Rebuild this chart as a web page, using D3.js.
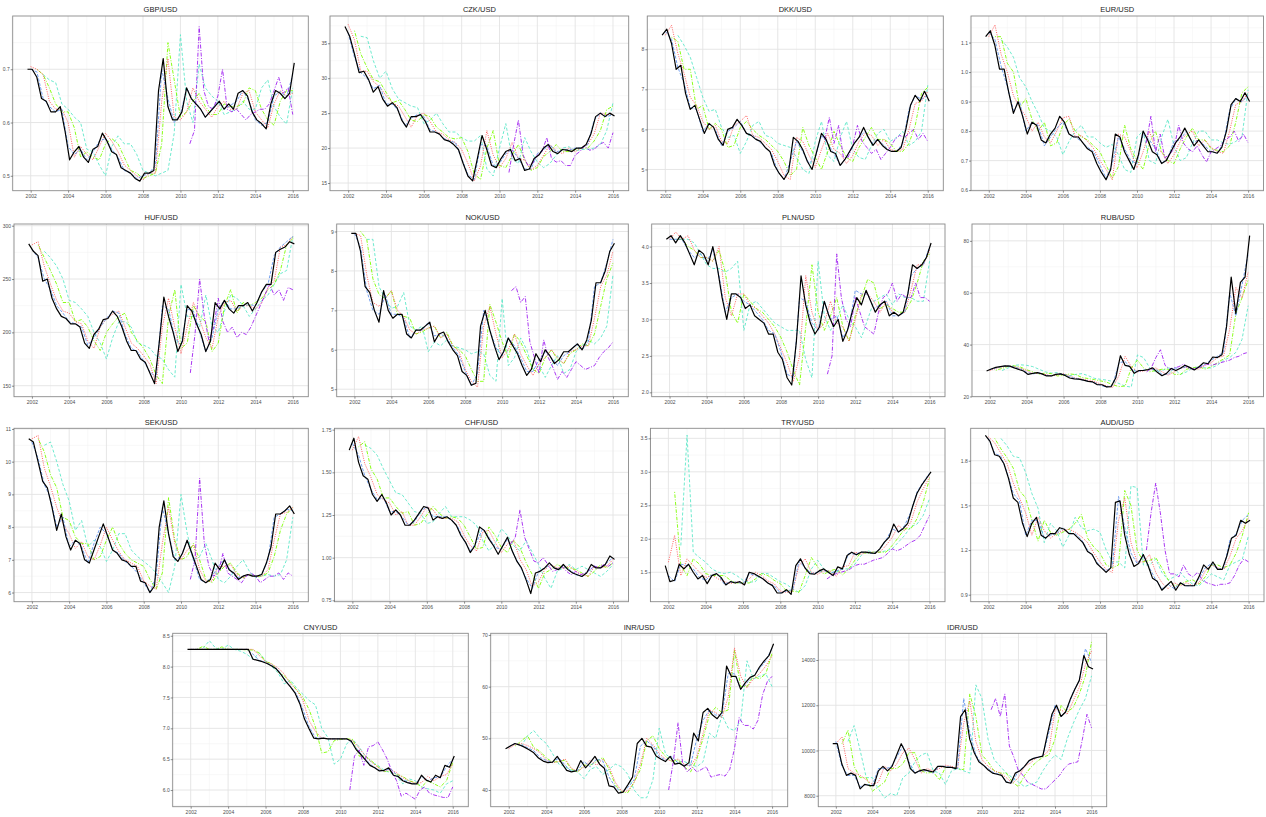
<!DOCTYPE html>
<html>
<head>
<meta charset="utf-8">
<script src="https://cdn.jsdelivr.net/npm/d3@7"></script>
<style>
body { margin: 0; background: #fff; }
svg { display: block; }
text { font-family: "Liberation Sans", Arial, sans-serif; }
</style>
</head>
<body>
<div id="chart"></div>
<script>
//////////////////////////////////////////////////////////////////////////////
// Time grids: actual is quarterly from Nov 2001, forecasts every 4 months
// (Jan/May/Sep) from Jan 2002, the long-run model quarterly from mid 2010

var actualStart = 2001.83, actualStep = 0.25;
var h1Start = 2002, h3Start = 2002, h6Start = 2002 + 1/3, h12Start = 2002 + 2/3, fcStep = 1/3;
var lrStart = 2010.5, lrStep = 0.25;
var yearTicks = [2002, 2004, 2006, 2008, 2010, 2012, 2014, 2016];

//////////////////////////////////////////////////////////////////////////////
// Data, one block per currency

var gbpActual = [0.70, 0.70,0.685,0.645,0.64, 0.62,0.62,0.63,0.585, 0.53,0.545,0.555,0.535, 0.525,0.55,0.555,0.58, 0.565,0.545,0.54,0.515, 0.51,0.505,0.495,0.49, 0.505,0.505,0.51,0.66, 0.72,0.63,0.605,0.605, 0.62,0.665,0.645,0.635, 0.625,0.61,0.62,0.63, 0.64,0.625,0.635,0.625, 0.655,0.66,0.65,0.62, 0.605,0.598,0.588,0.635, 0.66,0.655,0.645,0.655, 0.712];
var gbpH1 = [0.70,0.695,0.645, 0.63,0.62,0.625, 0.555,0.54,0.55, 0.53,0.545,0.565, 0.57,0.55,0.535, 0.51,0.505,0.495, 0.50,0.505,0.52, 0.70,0.645,0.60, 0.615,0.665,0.64, 0.63,0.61,0.625, 0.64,0.625,0.632, 0.64,0.66,0.64, 0.605,0.595,0.60, 0.65,0.658,0.648, 0.69];
var gbpH3 = [0.705,0.70,0.69, 0.64,0.625,0.625, 0.60,0.535,0.555, 0.54,0.53,0.555, 0.58,0.565,0.545, 0.52,0.51,0.50, 0.492,0.505,0.505, 0.64,0.72,0.61, 0.605,0.62,0.665, 0.64,0.625,0.61, 0.63,0.64,0.625, 0.625,0.655,0.66, 0.62,0.605,0.59, 0.635,0.66,0.65, 0.655];
var gbpH6 = [0.70,0.69, 0.665,0.635,0.62, 0.62,0.59,0.535, 0.545,0.535,0.53, 0.56,0.57,0.56, 0.535,0.51,0.505, 0.495,0.50,0.505, 0.56,0.75,0.68, 0.61,0.62,0.64, 0.655,0.63,0.615, 0.615,0.635,0.63, 0.63,0.635,0.665, 0.66,0.625,0.605, 0.595,0.64,0.66, 0.66];
var gbpH12 = [0.69, 0.68,0.675,0.635, 0.625,0.61,0.60, 0.55,0.545,0.52, 0.50,0.555,0.575, 0.56,0.56,0.54, 0.51,0.505,0.50, 0.505,0.51,0.58, 0.765,0.64,0.60, 0.71,0.665,0.65, 0.64,0.615,0.62, 0.625,0.64,0.625, 0.625,0.665,0.68, 0.63,0.61,0.597, 0.665];
var gbpLR = [0.56,0.585, 0.78,0.66,0.63,0.625, 0.65,0.70,0.625,0.62, 0.625,0.615,0.605,0.615, 0.62,0.625,0.625,0.635, 0.66,0.685,0.655,0.665, 0.615];
var gbpTicks = [0.5, 0.6, 0.7];

var czkActual = [37.4, 36.0,33.5,30.8,31.0, 29.8,28.0,28.8,27.0, 26.0,26.5,25.8,24.0, 23.0,24.5,24.5,24.8, 23.8,22.3,22.3,22.0, 21.2,21.0,20.5,19.8, 17.8,16.0,15.3,18.5, 21.8,19.8,17.5,17.2, 18.5,19.5,19.8,18.2, 18.5,16.8,17.0,18.5, 19.0,20.0,20.5,19.5, 19.2,19.8,19.7,19.5, 20.0,20.0,20.5,22.0, 24.5,25.0,24.5,25.0, 24.6];
var czkH1 = [36.5,33.0,30.8, 30.0,28.5,29.0, 26.3,26.3,25.3, 23.2,24.3,24.8, 24.5,22.6,22.3, 21.5,21.0,20.8, 18.5,16.2,15.5, 20.5,20.3,17.5, 17.8,19.2,19.8, 18.5,17.0,17.0, 19.2,19.8,20.5, 19.4,19.8,19.7, 20.0,20.0,20.5, 24.0,25.0,24.5, 24.8];
var czkH3 = [37.7,35.5,31.0, 31.0,29.5,28.8, 27.5,26.5,26.0, 24.5,23.0,24.7, 25.0,23.8,22.3, 22.0,21.2,20.8, 19.8,17.8,15.3, 17.5,22.5,19.0, 17.2,18.5,20.8, 18.5,18.3,16.9, 17.5,19.0,20.5, 19.6,19.2,20.0, 19.5,20.0,20.5, 22.0,25.0,24.8, 24.8];
var czkH6 = [36.8,33.5, 31.5,29.8,29.5, 28.0,26.5,26.8, 25.5,24.0,23.8, 24.8,24.5,23.0, 22.3,21.5,21.3, 21.5,19.5,16.3, 15.5,20.0,22.5, 17.5,17.2,19.0, 20.5,18.3,16.8, 17.2,18.8,19.5, 20.5,19.5,19.5, 19.8,20.0,20.0, 21.0,22.5,25.5, 26.0];
var czkH12 = [36.0, 35.8,32.5,30.0, 31.0,28.5,27.0, 26.5,26.0,25.8, 23.5,24.0,25.0, 23.5,22.3,22.3, 21.5,21.0,21.0, 21.8,17.0,16.0, 20.0,23.5,18.5, 17.8,21.5,19.5, 18.0,17.2,17.8, 19.0,20.0,20.2, 19.6,19.8,19.8, 20.0,20.5,22.5, 26.5];
var czkLR = [16.5,20.5, 24.0,19.0,17.5,17.8, 19.0,19.5,21.5,18.5, 18.0,18.2,17.5,17.5, 19.0,19.5,20.3,19.7, 19.8,20.5,20.8,20.0, 22.2];
var czkTicks = [15, 20, 25, 30, 35];

var dkkActual = [8.35, 8.5,8.15,7.5,7.6, 6.9,6.5,6.6,6.25, 5.9,6.15,6.05,5.75, 5.6,6.0,6.05,6.25, 6.1,5.9,5.85,5.75, 5.7,5.55,5.45,5.1, 4.9,4.75,4.95,5.8, 5.7,5.5,5.2,5.0, 5.45,5.9,5.75,5.45, 5.4,5.1,5.25,5.45, 5.65,5.8,6.05,5.8, 5.6,5.75,5.6,5.5, 5.45,5.45,5.55,6.0, 6.6,6.85,6.7,6.95, 6.7];
var dkkH1 = [8.45,8.25,7.55, 7.15,6.55,6.5, 5.95,6.15,6.0, 5.6,5.95,6.05, 6.2,5.9,5.85, 5.7,5.55,5.4, 4.95,4.75,5.2, 5.7,5.45,5.15, 5.3,5.85,5.65, 5.4,5.1,5.3, 5.6,5.8,5.95, 5.65,5.75,5.6, 5.45,5.45,5.65, 6.5,6.85,6.75, 6.85];
var dkkH3 = [8.35,8.6,7.9, 7.4,6.8,6.6, 6.2,6.0,6.1, 5.7,5.65,6.1, 6.2,6.35,5.85, 5.8,5.65,5.5, 5.2,4.85,4.75, 5.8,5.7,5.35, 5.05,5.5,5.9, 5.5,5.4,5.15, 5.35,5.7,5.9, 5.85,5.6,5.75, 5.5,5.45,5.5, 6.0,6.65,6.7, 6.95];
var dkkH6 = [8.3,8.2, 7.5,7.5,6.5, 6.6,6.0,6.15, 6.0,5.55,5.6, 6.05,6.2,6.0, 5.85,5.75,5.6, 5.45,5.2,4.85, 5.0,6.05,5.6, 5.3,5.0,5.45, 5.95,5.6,5.3, 5.2,5.55,5.8, 6.05,5.75,5.75, 5.65,5.45,5.45, 5.65,6.1,6.9, 7.05];
var dkkH12 = [8.35, 8.1,7.8,7.3, 6.8,6.45,6.5, 6.05,5.8,5.85, 5.4,5.7,6.1, 6.2,5.85,5.8, 5.65,5.6,5.55, 5.3,5.0,4.9, 5.7,6.2,5.35, 5.2,5.8,6.2, 5.5,5.3,5.25, 5.6,5.9,6.0, 5.7,5.8,5.95, 5.6,5.7,5.95, 7.1];
var dkkLR = [5.75,6.3, 5.65,6.1,5.3,5.3, 5.6,6.1,5.7,5.55, 5.4,5.5,5.25,5.4, 5.55,5.75,5.85,5.8, 5.9,6.0,5.75,5.9, 5.7];
var dkkTicks = [5, 6, 7, 8];

var eurActual = [1.12, 1.14,1.09,1.01,1.01, 0.93,0.86,0.90,0.85, 0.79,0.83,0.82,0.77, 0.76,0.79,0.81,0.85, 0.83,0.79,0.78,0.78, 0.76,0.74,0.73,0.69, 0.66,0.635,0.67,0.79, 0.78,0.73,0.70,0.67, 0.72,0.80,0.77,0.73, 0.72,0.69,0.70,0.73, 0.76,0.78,0.81,0.78, 0.75,0.77,0.75,0.73, 0.73,0.725,0.745,0.80, 0.89,0.91,0.90,0.93, 0.90];
var eurH1 = [1.135,1.11,1.02, 0.95,0.87,0.90, 0.80,0.83,0.82, 0.75,0.78,0.81, 0.83,0.79,0.78, 0.765,0.745,0.73, 0.685,0.64,0.69, 0.78,0.74,0.70, 0.69,0.79,0.77, 0.74,0.69,0.71, 0.765,0.77,0.80, 0.76,0.77,0.75, 0.73,0.725,0.76, 0.87,0.91,0.90, 0.92];
var eurH3 = [1.12,1.16,1.06, 1.0,0.92,0.88, 0.85,0.80,0.83, 0.78,0.76,0.80, 0.845,0.85,0.78, 0.785,0.765,0.74, 0.70,0.67,0.635, 0.79,0.78,0.73, 0.675,0.73,0.80, 0.74,0.73,0.69, 0.72,0.765,0.79, 0.80,0.75,0.77, 0.745,0.73,0.725, 0.80,0.89,0.90, 0.93];
var eurH6 = [1.12,1.12, 1.03,1.0,0.88, 0.91,0.84,0.80, 0.83,0.75,0.76, 0.82,0.84,0.80, 0.78,0.77,0.75, 0.73,0.685,0.64, 0.68,0.82,0.74, 0.70,0.67,0.76, 0.80,0.73,0.70, 0.69,0.74,0.78, 0.81,0.77,0.77, 0.74,0.735,0.73, 0.75,0.83,0.93, 0.95];
var eurH12 = [1.11, 1.085,1.05,0.98, 0.95,0.90,0.86, 0.81,0.80,0.78, 0.72,0.765,0.80, 0.82,0.78,0.78, 0.76,0.745,0.755, 0.72,0.67,0.66, 0.78,0.80,0.70, 0.69,0.78,0.84, 0.75,0.70,0.71, 0.76,0.80,0.80, 0.77,0.77,0.76, 0.755,0.765,0.78, 0.94];
var eurLR = [0.76,0.85, 0.73,0.79,0.71,0.72, 0.74,0.82,0.76,0.74, 0.73,0.75,0.72,0.695, 0.73,0.74,0.75,0.77, 0.78,0.80,0.765,0.79, 0.76];
var eurTicks = [0.6, 0.7, 0.8, 0.9, 1.0, 1.1];

var hufActual = [283, 276,272,248,250, 232,222,215,213, 208,208,205,190, 185,198,203,212, 213,220,215,205, 192,183,183,175, 172,162,152,190, 233,215,200,182, 192,225,220,208, 198,182,192,228, 222,230,222,218, 225,225,228,220, 228,238,245,245, 275,278,280,285, 283];
var hufH1 = [278,270,250, 240,225,218, 210,208,205, 188,195,205, 213,220,218, 198,185,182, 173,163,158, 225,222,195, 188,222,220, 200,182,195, 222,230,222, 222,225,226, 225,238,245, 272,280,285, 290];
var hufH3 = [282,285,262, 245,230,220, 218,210,208, 192,185,205, 213,217,220, 205,190,185, 178,170,152, 205,232,205, 180,205,228, 212,195,185, 215,228,230, 220,225,225, 222,228,242, 248,280,282, 290];
var hufH6 = [282,270, 258,245,228, 228,210,212, 205,192,183, 200,208,215, 218,200,192, 185,175,160, 152,215,240, 185,190,225, 215,210,182, 190,225,240, 218,228,225, 228,232,240, 245,258,282, 288];
var hufH12 = [276, 270,262,250, 230,228,222, 215,200,190, 175,195,210, 210,205,190, 188,185,178, 175,165,158, 245,215,215, 205,235,205, 200,220,235, 232,225,215, 222,230,235, 245,255,258, 290];
var hufLR = [162,198, 250,215,192,205, 232,210,200,205, 195,200,198,205, 215,225,235,245, 235,240,230,242, 240];
var hufTicks = [150, 200, 250, 300];

var nokActual = [8.95, 8.95,8.5,7.6,7.45, 7.0,6.7,7.5,7.0, 6.8,6.9,6.9,6.4, 6.3,6.5,6.5,6.6, 6.7,6.2,6.4,6.45, 6.2,6.0,5.85,5.45, 5.35,5.1,5.15,6.6, 7.0,6.5,6.1,5.75, 5.95,6.3,6.1,5.9, 5.6,5.35,5.5,5.9, 5.7,6.0,5.85,5.65, 5.75,5.95,5.95,6.05, 6.15,6.0,6.25,6.75, 7.7,7.7,8.0,8.5, 8.7];
var nokH1 = [8.95,8.6,7.5, 7.0,6.9,7.4, 6.9,6.9,6.8, 6.3,6.5,6.5, 6.7,6.35,6.4, 6.3,6.05,5.85, 5.45,5.1,5.4, 7.0,6.5,6.05, 5.85,6.3,6.1, 5.8,5.45,5.45, 5.75,5.95,5.8, 5.6,5.85,5.95, 6.15,6.0,6.2, 7.6,7.7,8.2, 8.8];
var nokH3 = [8.95,8.9,7.9, 7.2,7.1,7.3, 7.5,7.0,6.85, 6.5,6.4,6.5, 6.55,6.6,6.3, 6.4,6.1,5.95, 5.5,5.2,5.05, 6.6,7.1,6.4, 5.8,6.0,6.4, 5.9,5.6,5.35, 5.65,5.8,6.0, 5.8,5.65,5.95, 6.0,6.1,6.1, 6.8,7.6,7.9, 8.5];
var nokH6 = [9.0,8.8, 7.8,7.4,7.3, 7.5,6.9,6.85, 6.8,6.4,6.45, 6.55,6.6,6.3, 6.45,6.1,6.0, 5.85,5.5,5.2, 5.2,7.15,6.7, 6.2,5.8,6.4, 6.2,5.85,5.5, 5.4,5.8,6.0, 5.75,5.65,5.9, 6.0,6.15,6.1, 6.4,7.1,7.8, 8.2];
var nokH12 = [8.8, 8.8,7.6,7.3, 7.05,7.1,7.45, 6.6,6.5,6.6, 5.95,6.2,6.1, 6.25,6.1,6.05, 6.0,5.9,5.95, 5.9,5.35,5.2, 7.3,5.6,5.8, 6.3,6.0,5.5, 5.6,5.3,5.6, 5.85,5.4,5.5, 5.95,6.1,6.25, 6.15,6.3,6.6, 7.9];
var nokLR = [7.5,7.6, 7.2,7.35,6.2,5.8, 5.4,6.25,5.8,5.55, 5.25,5.45,5.3,5.5, 5.7,5.6,5.5,5.55, 5.6,5.8,5.95,6.05, 6.2];
var nokTicks = [5, 6, 7, 8, 9];

var plnActual = [4.1, 4.15,4.05,4.15,4.05, 3.9,3.75,3.95,3.9, 3.75,4.0,3.7,3.3, 3.0,3.35,3.35,3.3, 3.15,3.2,3.05,3.0, 2.95,2.8,2.8,2.55, 2.45,2.2,2.1,2.7, 3.6,3.2,2.95,2.8, 2.9,3.25,3.05,2.9, 3.0,2.7,2.85,3.1, 3.3,3.2,3.4,3.25, 3.1,3.2,3.25,3.05, 3.1,3.05,3.1,3.35, 3.75,3.7,3.75,3.85, 4.05];
var plnH1 = [4.1,4.1,4.1, 3.95,3.85,3.9, 3.8,3.95,3.6, 3.1,3.3,3.35, 3.25,3.2,3.1, 3.0,2.85,2.8, 2.55,2.25,2.2, 3.3,3.25,2.95, 2.85,3.25,3.0, 3.05,2.75,2.9, 3.4,3.35,3.35, 3.15,3.2,3.25, 3.05,3.05,3.1, 3.6,3.7,3.75, 4.0];
var plnH3 = [4.1,4.2,4.1, 4.15,3.95,3.85, 3.85,3.8,4.0, 3.3,3.05,3.35, 3.35,3.2,3.15, 3.05,2.95,2.8, 2.6,2.4,2.15, 2.5,3.6,3.1, 2.85,2.95,3.25, 2.95,2.9,2.7, 3.0,3.35,3.35, 3.25,3.1,3.25, 3.1,3.05,3.1, 3.4,3.75,3.75, 3.95];
var plnH6 = [4.1,4.1, 4.0,3.95,3.85, 3.85,3.8,3.95, 3.65,3.1,2.95, 3.35,3.25,3.15, 3.1,3.0,2.9, 2.75,2.55,2.3, 2.1,2.9,3.75, 3.1,2.85,3.05, 3.3,2.9,2.7, 3.05,3.3,3.55, 3.5,3.15,3.2, 3.15,3.1,3.1, 3.25,3.5,3.8, 3.9];
var plnH12 = [4.1, 4.1,4.05,3.9, 3.75,3.7,3.7, 3.65,3.7,3.8, 2.85,3.2,3.25, 3.15,3.05,2.95, 2.9,2.85,2.85, 2.85,2.45,2.2, 3.8,3.05,2.85, 3.0,3.2,3.0, 2.9,2.75,3.0, 3.25,3.3,3.35, 3.2,3.35,3.3, 3.3,3.25,3.25, 3.8];
var plnLR = [2.25,2.5, 3.9,3.3,3.0,2.9, 3.3,3.1,2.9,2.85, 2.8,3.1,3.3,3.35, 3.5,3.25,3.35,3.3, 3.3,3.5,3.3,3.3, 3.25];
var plnTicks = [2.0, 2.5, 3.0, 3.5, 4.0];

var rubActual = [29.8, 30.6,31.2,31.5,31.8, 31.7,31.0,30.4,29.8, 28.5,28.9,29.2,28.7, 27.9,27.9,28.5,28.7, 28.1,27.1,26.8,26.7, 26.3,25.8,25.6,24.5, 24.5,23.7,23.8,27.2, 35.7,32.0,31.6,28.9, 30.0,30.0,30.4,31.0, 29.3,28.0,28.9,30.8, 30.0,30.9,32.0,31.2, 30.2,31.4,33.0,32.6, 35.2,35.0,36.1,47.0, 66.0,52.0,64.0,66.0, 82.0];
var rubH1 = [30.3,31.0,31.6, 31.8,31.3,30.6, 29.3,28.7,29.1, 28.2,27.9,28.6, 28.6,27.5,26.9, 26.4,25.9,25.4, 24.3,23.6,24.5, 33.0,33.5,30.5, 29.5,30.2,30.3, 30.5,28.5,28.5, 31.0,30.8,31.5, 30.5,31.5,32.5, 34.0,35.5,37.0, 60.0,51.0,63.0, 75.0];
var rubH3 = [30.0,30.8,31.4, 31.8,31.5,30.8, 30.0,28.8,29.0, 28.5,27.9,28.3, 28.8,27.9,27.0, 26.7,26.2,25.8, 24.8,24.0,23.5, 28.0,35.5,31.5, 29.5,29.8,30.3, 31.0,29.5,28.2, 29.5,31.0,31.2, 30.8,30.5,32.0, 33.0,35.0,35.5, 46.0,62.0,58.0, 68.0];
var rubH6 = [30.1,30.8, 31.6,31.8,31.3, 30.3,29.5,28.6, 29.0,28.8,27.9, 28.1,28.7,28.4, 27.3,26.9,26.5, 26.0,25.5,24.5, 23.8,24.0,31.0, 34.0,31.0,29.5, 30.0,30.5,30.5, 28.5,28.5,30.5, 31.0,31.5,30.5, 31.5,33.0,34.5, 36.0,52.0,58.0, 65.0];
var rubH12 = [30.0, 31.0,32.0,32.2, 32.0,31.5,30.5, 29.5,29.0,29.2, 28.5,28.0,28.5, 28.8,28.0,27.0, 26.6,26.3,25.8, 25.0,24.0,23.6, 36.0,35.0,31.0, 29.5,30.0,31.0, 30.5,28.5,29.5, 31.0,31.5,31.0, 31.0,32.0,34.0, 35.0,37.0,42.0, 55.0];
var rubLR = [29.5,31.0, 35.0,38.0,32.0,30.5, 31.0,31.5,32.5,31.0, 30.5,31.0,31.5,32.5, 32.0,32.5,33.0,33.5, 34.0,35.0,35.5,36.5, 37.0];
var rubTicks = [20, 40, 60, 80];

var sekActual = [10.7, 10.6,10.0,9.4,9.2, 8.6,7.9,8.4,7.7, 7.3,7.6,7.5,7.0, 6.9,7.3,7.7,8.1, 7.7,7.3,7.2,7.0, 6.95,6.8,6.8,6.35, 6.3,6.0,6.2,8.0, 8.8,7.8,7.1,6.95, 7.2,7.6,7.2,6.8, 6.4,6.3,6.4,6.9, 6.7,7.0,6.7,6.6, 6.4,6.5,6.55,6.5, 6.5,6.55,6.9,7.4, 8.4,8.4,8.5,8.65, 8.4];
var sekH1 = [10.6,10.1,9.3, 8.9,8.0,8.3, 7.4,7.6,7.4, 6.9,7.5,8.0, 7.8,7.3,7.2, 6.95,6.8,6.6, 6.3,6.0,6.5, 8.6,7.8,7.0, 7.1,7.6,7.0, 6.4,6.3,6.5, 6.8,7.0,6.65, 6.45,6.5,6.55, 6.5,6.55,7.0, 8.3,8.4,8.55, 8.5];
var sekH3 = [10.7,10.8,9.8, 9.25,8.6,8.1, 7.8,7.35,7.55, 7.1,7.0,7.45, 8.0,7.6,7.25, 7.0,6.9,6.8, 6.35,6.2,6.1, 7.5,8.6,7.5, 7.0,7.3,7.45, 6.7,6.35,6.35, 6.8,6.8,6.85, 6.55,6.45,6.55, 6.5,6.5,6.7, 7.6,8.4,8.45, 8.6];
var sekH6 = [10.7,10.3, 9.6,9.2,8.3, 8.2,7.7,7.5, 7.5,7.0,7.1, 7.6,8.0,7.5, 7.2,7.0,6.9, 6.8,6.4,6.1, 6.6,8.9,7.6, 7.0,7.1,7.5, 7.0,6.4,6.3, 6.6,6.8,6.9, 6.6,6.45,6.55, 6.5,6.5,6.6, 7.1,7.9,8.4, 8.6];
var sekH12 = [10.5, 10.6,10.0,9.3, 8.8,7.9,8.2, 7.4,7.6,7.4, 6.95,7.3,7.8, 7.8,7.3,7.1, 6.95,6.8,6.6, 6.3,6.0,6.8, 9.0,7.8,7.0, 7.1,7.5,7.0, 6.4,6.3,6.5, 6.8,7.0,6.65, 6.45,6.5,6.55, 6.5,6.55,7.0, 8.3];
var sekLR = [6.4,7.0, 9.5,7.5,6.8,6.5, 6.6,7.2,6.6,6.5, 6.4,6.3,6.5,6.6, 6.5,6.3,6.4,6.5, 6.5,6.6,6.4,6.6, 6.5];
var sekTicks = [6, 7, 8, 9, 10, 11];

var chfActual = [1.63, 1.70,1.56,1.48,1.46, 1.37,1.33,1.37,1.32, 1.25,1.28,1.25,1.19, 1.19,1.22,1.26,1.30, 1.29,1.22,1.24,1.23, 1.24,1.22,1.19,1.13, 1.09,1.03,1.07,1.18, 1.16,1.11,1.07,1.02, 1.07,1.12,1.04,0.98, 0.94,0.87,0.79,0.91, 0.92,0.94,0.97,0.94, 0.93,0.96,0.93,0.91, 0.90,0.89,0.91,0.96, 0.94,0.94,0.96,1.01, 0.99];
var chfH1 = [1.67,1.60,1.48, 1.40,1.34,1.35, 1.27,1.27,1.24, 1.19,1.21,1.27, 1.30,1.24,1.24, 1.24,1.22,1.18, 1.10,1.04,1.09, 1.17,1.12,1.06, 1.05,1.11,1.02, 0.95,0.88,0.82, 0.92,0.94,0.96, 0.93,0.95,0.93, 0.90,0.89,0.92, 0.95,0.94,0.97, 1.00];
var chfH3 = [1.63,1.71,1.55, 1.47,1.37,1.34, 1.32,1.25,1.27, 1.19,1.19,1.24, 1.30,1.28,1.23, 1.23,1.23,1.21, 1.13,1.07,1.04, 1.15,1.16,1.09, 1.03,1.08,1.10, 0.99,0.93,0.83, 0.86,0.93,0.96, 0.94,0.94,0.95, 0.92,0.90,0.89, 0.95,0.94,0.95, 0.99];
var chfH6 = [1.65,1.68, 1.52,1.46,1.35, 1.35,1.30,1.26, 1.27,1.19,1.20, 1.25,1.30,1.26, 1.23,1.24,1.23, 1.19,1.12,1.05, 1.06,1.18,1.13, 1.06,1.03,1.10, 1.06,0.97,0.90, 0.82,0.91,0.93, 0.96,0.94,0.94, 0.93,0.91,0.89, 0.92,0.96,0.94, 0.97];
var chfH12 = [1.66, 1.64,1.60,1.52, 1.45,1.38,1.37, 1.32,1.27,1.26, 1.20,1.21,1.26, 1.30,1.24,1.24, 1.24,1.22,1.19, 1.10,1.04,1.08, 1.17,1.13,1.07, 1.04,1.10,1.03, 0.96,0.88,0.82, 0.92,0.94,0.96, 0.93,0.95,0.93, 0.91,0.89,0.92, 0.96];
var chfLR = [1.08,1.12, 1.28,1.12,1.05,0.98, 0.97,1.00,0.96,0.92, 0.93,0.95,0.92,0.90, 0.92,0.90,0.91,0.93, 0.95,0.94,0.96,0.95, 0.97];
var chfTicks = [0.75, 1.00, 1.25, 1.50, 1.75];

var tryActual = [1.60, 1.36,1.38,1.62,1.55, 1.62,1.50,1.40,1.45, 1.33,1.45,1.48,1.42, 1.31,1.36,1.34,1.36, 1.31,1.50,1.48,1.44, 1.40,1.34,1.30,1.19, 1.19,1.24,1.17,1.60, 1.70,1.56,1.48,1.47, 1.52,1.55,1.50,1.45, 1.58,1.55,1.75,1.80, 1.76,1.80,1.80,1.79, 1.78,1.85,1.95,2.02, 2.22,2.10,2.15,2.23, 2.47,2.68,2.80,2.90, 3.00];
var tryH1 = [1.45,1.36,1.62, 1.60,1.55,1.42, 1.38,1.47,1.46, 1.32,1.36,1.35, 1.33,1.48,1.45, 1.42,1.34,1.30, 1.19,1.22,1.24, 1.66,1.57,1.48, 1.50,1.53,1.48, 1.52,1.55,1.78, 1.77,1.80,1.79, 1.78,1.84,1.98, 2.15,2.10,2.20, 2.40,2.70,2.85, 2.98];
var tryH3 = [1.65,2.05,1.45, 1.70,1.60,1.50, 1.42,1.46,1.40, 1.36,1.33,1.36, 1.32,1.40,1.50, 1.45,1.37,1.33, 1.22,1.20,1.22, 1.60,1.70,1.50, 1.47,1.52,1.52, 1.44,1.58,1.60, 1.80,1.77,1.80, 1.80,1.80,1.90, 2.02,2.20,2.12, 2.25,2.55,2.75, 2.92];
var tryH6 = [2.70,1.60, 1.45,1.70,1.62, 1.48,1.45,1.45, 1.45,1.38,1.33, 1.34,1.34,1.40, 1.48,1.45,1.38, 1.33,1.22,1.22, 1.20,1.45,1.72, 1.58,1.47,1.52, 1.55,1.46,1.55, 1.68,1.80,1.78, 1.80,1.80,1.80, 1.90,2.02,2.15, 2.15,2.30,2.55, 2.90];
var tryH12 = [1.90, 3.55,1.80,1.72, 1.65,1.55,1.50, 1.48,1.50,1.45, 1.38,1.35,1.36, 1.48,1.48,1.42, 1.36,1.32,1.25, 1.20,1.30,1.55, 1.68,1.55,1.50, 1.50,1.55,1.55, 1.62,1.75,1.82, 1.80,1.80,1.82, 1.85,1.95,2.05, 2.18,2.22,2.35, 2.60];
var tryLR = [1.40,1.45, 1.48,1.50,1.52,1.55, 1.60,1.62,1.62,1.65, 1.68,1.70,1.72,1.78, 1.85,1.82,1.85,1.90, 1.95,1.98,2.05,2.20, 2.35];
var tryTicks = [1.5, 2.0, 2.5, 3.0, 3.5];

var audActual = [1.97, 1.93,1.84,1.83,1.78, 1.68,1.55,1.52,1.38, 1.29,1.38,1.42,1.30, 1.28,1.31,1.31,1.35, 1.34,1.31,1.31,1.28, 1.25,1.19,1.17,1.11, 1.08,1.05,1.08,1.52, 1.53,1.30,1.17,1.09, 1.11,1.17,1.10,1.01, 0.99,0.93,0.96,0.99, 0.93,0.98,0.96,0.96, 0.96,1.02,1.10,1.07, 1.12,1.07,1.07,1.16, 1.28,1.30,1.40,1.38, 1.40];
var audH1 = [1.95,1.85,1.83, 1.72,1.58,1.53, 1.30,1.40,1.40, 1.28,1.30,1.31, 1.35,1.31,1.31, 1.27,1.20,1.15, 1.09,1.06,1.09, 1.56,1.35,1.18, 1.11,1.16,1.08, 1.00,0.94,0.97, 0.94,0.98,0.96, 0.96,1.01,1.08, 1.11,1.07,1.08, 1.27,1.31,1.40, 1.44];
var audH3 = [1.96,1.92,1.85, 1.78,1.65,1.55, 1.45,1.30,1.42, 1.33,1.28,1.31, 1.33,1.34,1.32, 1.29,1.25,1.18, 1.12,1.07,1.05, 1.40,1.55,1.25, 1.12,1.12,1.17, 1.05,0.98,0.94, 0.98,0.96,0.98, 0.96,0.98,1.06, 1.10,1.08,1.07, 1.16,1.28,1.33, 1.42];
var audH6 = [1.95,1.88, 1.82,1.75,1.60, 1.55,1.40,1.26, 1.40,1.32,1.30, 1.32,1.34,1.38, 1.44,1.28,1.22, 1.18,1.10,1.08, 1.10,1.60,1.50, 1.20,1.12,1.13, 1.15,1.08,1.00, 0.96,0.97,0.99, 1.00,0.97,1.02, 1.10,1.10,1.08, 1.10,1.18,1.30, 1.45];
var audH12 = [1.95, 1.90,1.83,1.82, 1.72,1.58,1.48, 1.25,1.38,1.33, 1.22,1.30,1.42, 1.35,1.33,1.34, 1.32,1.20,1.12, 1.12,1.08,1.63, 1.62,1.10,1.10, 1.14,1.05,1.00, 1.02,1.05,1.00, 0.97,0.96,1.00, 1.04,1.02,1.00, 1.10,1.12,1.14, 1.30];
var audLR = [1.20,1.45, 1.65,1.45,1.20,1.04, 1.04,1.02,1.10,1.04, 1.02,1.05,1.00,0.98, 0.97,0.96,0.97,0.97, 0.98,1.03,1.10,1.14, 1.12];
var audTicks = [0.9, 1.2, 1.5, 1.8];

var cnyActual = [8.28, 8.28,8.28,8.28,8.28, 8.28,8.28,8.28,8.28, 8.28,8.28,8.28,8.28, 8.28,8.12,8.10,8.08, 8.05,8.01,7.96,7.87, 7.76,7.67,7.57,7.40, 7.15,6.99,6.84,6.83, 6.84,6.83,6.83,6.83, 6.83,6.83,6.79,6.66, 6.58,6.49,6.40,6.36, 6.31,6.32,6.36,6.24, 6.22,6.15,6.12,6.10, 6.10,6.24,6.16,6.13, 6.24,6.20,6.40,6.37, 6.55];
var cnyH1 = [8.28,8.28,8.28, 8.28,8.28,8.28, 8.28,8.28,8.28, 8.28,8.20,8.10, 8.07,8.02,7.95, 7.80,7.68,7.55, 7.30,7.02,6.85, 6.84,6.83,6.83, 6.83,6.83,6.75, 6.62,6.50,6.40, 6.33,6.31,6.35, 6.25,6.17,6.12, 6.10,6.22,6.15, 6.20,6.21,6.38, 6.50];
var cnyH3 = [8.28,8.28,8.28, 8.28,8.28,8.28, 8.28,8.28,8.28, 8.28,8.28,8.18, 8.08,8.04,7.98, 7.88,7.72,7.62, 7.45,7.12,6.95, 6.84,6.83,6.83, 6.83,6.83,6.80, 6.68,6.55,6.45, 6.37,6.30,6.34, 6.28,6.20,6.15, 6.11,6.12,6.22, 6.15,6.22,6.25, 6.42];
var cnyH6 = [8.28,8.33, 8.28,8.28,8.32, 8.28,8.28,8.28, 8.27,8.27,8.22, 8.08,8.05,7.92, 7.85,7.75,7.62, 7.50,7.30,7.02, 6.60,6.62,6.80, 6.82,6.83,6.82, 6.55,6.55,6.47, 6.38,6.30,6.30, 6.25,6.22,6.15, 6.12,6.05,6.15, 6.10,6.05,6.15, 6.45];
var cnyH12 = [8.30, 8.42,8.30,8.28, 8.35,8.28,8.25, 8.20,8.12,8.22, 8.10,8.00,7.90, 7.72,7.78,7.65, 7.55,7.45,7.38, 7.00,6.85,6.42, 6.50,6.75,6.82, 6.70,6.55,6.45, 6.40,6.32,6.28, 6.22,6.10,6.18, 6.15,6.05,6.02, 6.00,5.95,6.10, 6.15];
var cnyLR = [6.00,6.55, 6.65,6.40,6.70,6.72, 6.78,6.65,6.50,6.30, 6.15,5.90,5.95,5.90, 5.85,6.00,6.05,5.95, 5.92,5.90,5.88,5.88, 6.05];
var cnyTicks = [6.0, 6.5, 7.0, 7.5, 8.0, 8.5];

var inrActual = [48.0, 48.5,49.0,48.7,48.3, 47.8,47.2,46.2,45.6, 45.3,45.4,46.5,45.1, 43.8,43.5,43.7,45.7, 44.3,45.3,46.5,45.0, 44.2,40.8,40.6,39.4, 39.6,41.0,42.5,49.0, 50.0,48.5,48.3,46.6, 46.0,45.5,46.5,45.0, 45.2,44.6,45.3,51.0, 49.5,55.0,55.8,54.5, 53.8,55.0,64.0,62.0, 62.0,59.5,60.8,61.8, 62.2,63.8,65.0,66.0, 68.3];
var inrH1 = [48.3,49.0,48.7, 48.2,47.6,46.3, 45.7,45.4,46.2, 44.8,43.6,43.8, 45.5,44.5,46.0, 45.6,42.5,40.6, 39.5,40.5,42.0, 48.5,49.5,48.5, 46.5,45.8,46.5, 45.2,44.8,44.8, 50.0,53.5,55.5, 54.5,54.5,62.5, 62.5,59.5,60.8, 62.0,63.5,65.0, 67.5];
var inrH3 = [48.0,48.8,49.0, 48.6,48.0,47.2, 45.8,45.3,45.5, 46.0,44.2,43.6, 44.5,45.8,44.8, 46.0,44.5,41.5, 39.8,39.8,41.5, 45.0,50.0,48.8, 47.0,46.0,45.6, 46.0,45.0,44.6, 46.5,51.0,55.5, 55.0,54.0,58.0, 67.5,62.0,59.8, 61.5,62.5,64.0, 66.0];
var inrH6 = [48.5,49.5, 50.5,48.2,47.5, 46.2,45.4,45.5, 45.8,44.0,43.5, 44.8,44.8,45.5, 46.3,44.0,41.0, 39.6,39.5,41.5, 44.0,49.5,50.5, 48.0,46.5,45.5, 45.8,44.5,43.5, 46.0,50.0,54.5, 56.0,55.0,55.5, 67.0,60.0,60.0, 62.0,61.5,62.5, 66.5];
var inrH12 = [48.5, 50.5,51.5,50.0, 49.0,47.0,45.0, 44.5,43.8,43.5, 42.2,44.0,44.5, 43.0,44.0,45.0, 44.5,43.0,40.0, 38.5,38.5,42.0, 52.0,47.0,46.0, 45.5,45.5,45.0, 44.5,45.5,51.0, 50.0,54.5,52.0, 51.5,53.5,65.0, 61.5,62.0,62.5, 60.0];
var inrLR = [40.0,45.5, 53.0,45.0,43.5,44.5, 43.5,44.0,44.5,42.5, 42.8,43.0,42.7,44.0, 48.0,54.0,52.5,52.5, 51.8,53.5,58.5,61.0, 62.0];
var inrTicks = [40, 50, 60, 70];

var idrActual = [10300, 10300,9400,8900,9000, 8900,8300,8500,8450, 8450,9100,9300,9100, 9300,9800,10300,9900, 9200,9000,9100,9150, 9100,9050,9300,9300, 9250,9250,9200,11500, 11800,10500,9900,9500, 9350,9150,9000,8950, 8900,8600,8550,9000, 9100,9300,9550,9650, 9700,9750,10700,11600, 12000,11500,11700,12250, 12700,13100,14200,13700, 13600];
var idrH1 = [10400,9300,8900, 8900,8400,8500, 8450,9200,9200, 9250,9700,10200, 9500,9000,9100, 9100,9000,9300, 9300,9250,9200, 12300,10800,9800, 9400,9200,9000, 8950,8600,8600, 9100,9300,9600, 9700,9750,10800, 12000,11500,11800, 12600,13100,14500, 13900];
var idrH3 = [10300,10600,9200, 9000,8900,8700, 8500,8600,9300, 9100,9400,9900, 10100,9600,9000, 9200,9100,9200, 9350,9300,9200, 11200,12200,10400, 9600,9300,9100, 9000,8800,8550, 8800,9300,9450, 9700,9750,10000, 11800,11800,11600, 12200,12800,13800, 14400];
var idrH6 = [10300,10900, 9300,8800,8800, 8200,8400,8600, 9200,9200,9400, 9900,9900,9100, 9000,9050,8700, 9250,9250,9200, 9150,12500,11500, 9800,9500,9100, 9000,9000,8600, 8400,8900,9250, 9500,9700,9800, 10500,12000,11700, 11900,12500,13300, 14800];
var idrH12 = [10400, 11100,10000,8800, 8800,8300,7900, 8100,8000,8800, 9000,9500,9800, 9900,9100,9000, 8500,9100,9200, 9100,9000,12900, 12300,10500,9600, 9300,9000,8800, 8600,8400,8500, 8600,9100,9500, 9800,9600,10500, 11200,11800,12300, 13300];
var idrLR = [11800,12300, 11500,12500,10200,9700, 9100,8900,8600,8500, 8400,8300,8300,8500, 8700,8900,9200,9400, 9450,9500,10500,11600, 11000];
var idrTicks = [8000, 10000, 12000, 14000];

//////////////////////////////////////////////////////////////////////////////
// Panel table: data plus where each panel sits on the page

var panels = [
    {name: "GBP/USD", actual: gbpActual, h1: gbpH1, h3: gbpH3, h6: gbpH6, h12: gbpH12, lr: gbpLR, ticks: gbpTicks, fmt: ".1f", domain: [0.472, 0.800], box: [12.7, 16, 308.3, 190.7]},
    {name: "CZK/USD", actual: czkActual, h1: czkH1, h3: czkH3, h6: czkH6, h12: czkH12, lr: czkLR, ticks: czkTicks, fmt: "d", domain: [13.9, 38.9], box: [330, 16, 628.7, 190.7]},
    {name: "DKK/USD", actual: dkkActual, h1: dkkH1, h3: dkkH3, h6: dkkH6, h12: dkkH12, lr: dkkLR, ticks: dkkTicks, fmt: "d", domain: [4.47, 8.83], box: [647.3, 16, 943.3, 190.7]},
    {name: "EUR/USD", actual: eurActual, h1: eurH1, h3: eurH3, h6: eurH6, h12: eurH12, lr: eurLR, ticks: eurTicks, fmt: ".1f", domain: [0.598, 1.19], box: [971, 16, 1263.5, 190.7]},
    {name: "HUF/USD", actual: hufActual, h1: hufH1, h3: hufH3, h6: hufH6, h12: hufH12, lr: hufLR, ticks: hufTicks, fmt: "d", domain: [139.7, 301.6], box: [14, 224, 308.3, 396.7]},
    {name: "NOK/USD", actual: nokActual, h1: nokH1, h3: nokH3, h6: nokH6, h12: nokH12, lr: nokLR, ticks: nokTicks, fmt: "d", domain: [4.81, 9.19], box: [336.7, 224, 628.3, 396.7]},
    {name: "PLN/USD", actual: plnActual, h1: plnH1, h3: plnH3, h6: plnH6, h12: plnH12, lr: plnLR, ticks: plnTicks, fmt: ".1f", domain: [1.94, 4.31], box: [651.7, 224, 945, 396.7]},
    {name: "RUB/USD", actual: rubActual, h1: rubH1, h3: rubH3, h6: rubH6, h12: rubH12, lr: rubLR, ticks: rubTicks, fmt: "d", domain: [19.9, 86.5], box: [972, 224, 1263.5, 396.7]},
    {name: "SEK/USD", actual: sekActual, h1: sekH1, h3: sekH3, h6: sekH6, h12: sekH12, lr: sekLR, ticks: sekTicks, fmt: "d", domain: [5.72, 11.02], box: [14, 428.3, 308.3, 601.7]},
    {name: "CHF/USD", actual: chfActual, h1: chfH1, h3: chfH3, h6: chfH6, h12: chfH12, lr: chfLR, ticks: chfTicks, fmt: ".2f", domain: [0.742, 1.758], box: [334.5, 428.3, 628.5, 601.7]},
    {name: "TRY/USD", actual: tryActual, h1: tryH1, h3: tryH3, h6: tryH6, h12: tryH12, lr: tryLR, ticks: tryTicks, fmt: ".1f", domain: [1.06, 3.65], box: [650.5, 428.3, 945, 601.7]},
    {name: "AUD/USD", actual: audActual, h1: audH1, h3: audH3, h6: audH6, h12: audH12, lr: audLR, ticks: audTicks, fmt: ".1f", domain: [0.853, 2.018], box: [970.7, 428.3, 1264, 601.7]},
    {name: "CNY/USD", actual: cnyActual, h1: cnyH1, h3: cnyH3, h6: cnyH6, h12: cnyH12, lr: cnyLR, ticks: cnyTicks, fmt: ".1f", domain: [5.73, 8.54], box: [172.7, 633.3, 468.3, 806.7]},
    {name: "INR/USD", actual: inrActual, h1: inrH1, h3: inrH3, h6: inrH6, h12: inrH12, lr: inrLR, ticks: inrTicks, fmt: "d", domain: [36.77, 70.33], box: [490.7, 633.3, 787.7, 806.7]},
    {name: "IDR/USD", actual: idrActual, h1: idrH1, h3: idrH3, h6: idrH6, h12: idrH12, lr: idrLR, ticks: idrTicks, fmt: "d", domain: [7514, 15181], box: [818.3, 633.3, 1106.7, 806.7]}
];

// drawn back to front, actual last
var seriesStyle = [
    {key: "h12",    start: h12Start,    step: fcStep,     color: "#5ee8c8", dash: "3,2",         width: 0.9},
    {key: "h6",     start: h6Start,     step: fcStep,     color: "#7fff00", dash: "1,1.5,3.5,1.5", width: 0.9},
    {key: "h3",     start: h3Start,     step: fcStep,     color: "#ff5050", dash: "1,1.3",       width: 0.9},
    {key: "h1",     start: h1Start,     step: fcStep,     color: "#6495ed", dash: "3,1.5",       width: 0.9},
    {key: "lr",     start: lrStart,     step: lrStep,     color: "#a020f0", dash: "4,1.5,1,1.5", width: 0.9},
    {key: "actual", start: actualStart, step: actualStep, color: "#000000", dash: null,          width: 1.2}
];

var xDomain = [2001.04, 2016.83];

//////////////////////////////////////////////////////////////////////////////
// Drawing

var svg = d3.select("#chart")
    .append("svg")
    .attr("width", 1266)
    .attr("height", 817);

svg.append("rect").attr("width", 1266).attr("height", 817).attr("fill", "#fff");

panels.forEach(function(p, pi) {
    var b = p.box;
    var x = d3.scaleLinear().domain(xDomain).range([b[0], b[2]]);
    var y = d3.scaleLinear().domain(p.domain).range([b[3], b[1]]);
    var g = svg.append("g");

    var clipId = "clip" + pi;
    g.append("clipPath").attr("id", clipId)
        .append("rect")
        .attr("x", b[0]).attr("y", b[1])
        .attr("width", b[2] - b[0]).attr("height", b[3] - b[1]);

    // minor grid
    var tStep = p.ticks[1] - p.ticks[0];
    var yMinor = [];
    for (var v = p.ticks[0] - tStep / 2; v < p.domain[1]; v += tStep) {
        if (v > p.domain[0]) yMinor.push(v);
    }
    var xMinor = d3.range(2001, 2017, 2);
    var grid = g.append("g");
    grid.selectAll(".ymin").data(yMinor).enter().append("line")
        .attr("x1", b[0]).attr("x2", b[2])
        .attr("y1", function(d) { return y(d); }).attr("y2", function(d) { return y(d); })
        .attr("stroke", "#f3f3f3").attr("stroke-width", 0.6);
    grid.selectAll(".xmin").data(xMinor).enter().append("line")
        .attr("y1", b[1]).attr("y2", b[3])
        .attr("x1", function(d) { return x(d); }).attr("x2", function(d) { return x(d); })
        .attr("stroke", "#f3f3f3").attr("stroke-width", 0.6);

    // major grid
    grid.selectAll(".ymaj").data(p.ticks).enter().append("line")
        .attr("x1", b[0]).attr("x2", b[2])
        .attr("y1", function(d) { return y(d); }).attr("y2", function(d) { return y(d); })
        .attr("stroke", "#e3e3e3").attr("stroke-width", 0.9);
    grid.selectAll(".xmaj").data(yearTicks).enter().append("line")
        .attr("y1", b[1]).attr("y2", b[3])
        .attr("x1", function(d) { return x(d); }).attr("x2", function(d) { return x(d); })
        .attr("stroke", "#e3e3e3").attr("stroke-width", 0.9);

    // series
    var lines = g.append("g").attr("clip-path", "url(#" + clipId + ")");
    seriesStyle.forEach(function(s) {
        var vals = p[s.key];
        var line = d3.line()
            .defined(function(d) { return d != null; })
            .x(function(d, i) { return x(s.start + i * s.step); })
            .y(function(d) { return y(d); });
        lines.append("path")
            .datum(vals)
            .attr("d", line)
            .attr("fill", "none")
            .attr("stroke", s.color)
            .attr("stroke-width", s.width)
            .attr("stroke-dasharray", s.dash)
            .attr("stroke-linejoin", "round");
    });

    // border
    g.append("rect")
        .attr("x", b[0]).attr("y", b[1])
        .attr("width", b[2] - b[0]).attr("height", b[3] - b[1])
        .attr("fill", "none").attr("stroke", "#8a8a8a").attr("stroke-width", 0.9);

    // axes
    var xAxis = g.append("g")
        .attr("transform", "translate(0," + b[3] + ")")
        .call(d3.axisBottom(x).tickValues(yearTicks).tickFormat(d3.format("d")).tickSize(2).tickPadding(1.5));
    var yAxis = g.append("g")
        .attr("transform", "translate(" + b[0] + ",0)")
        .call(d3.axisLeft(y).tickValues(p.ticks).tickFormat(d3.format(p.fmt)).tickSize(2).tickPadding(1));
    [xAxis, yAxis].forEach(function(a) {
        a.select(".domain").remove();
        a.selectAll(".tick line").attr("stroke", "#444").attr("stroke-width", 0.6);
        a.selectAll(".tick text")
            .attr("fill", "#4d4d4d")
            .style("font-size", "5px")
            .style("font-family", "'Liberation Sans', Arial, sans-serif");
    });

    // title
    g.append("text")
        .attr("x", (b[0] + b[2]) / 2)
        .attr("y", b[1] - 3.8)
        .attr("text-anchor", "middle")
        .attr("fill", "#222")
        .style("font-size", "7.5px")
        .text(p.name);
});
</script>
</body>
</html>
